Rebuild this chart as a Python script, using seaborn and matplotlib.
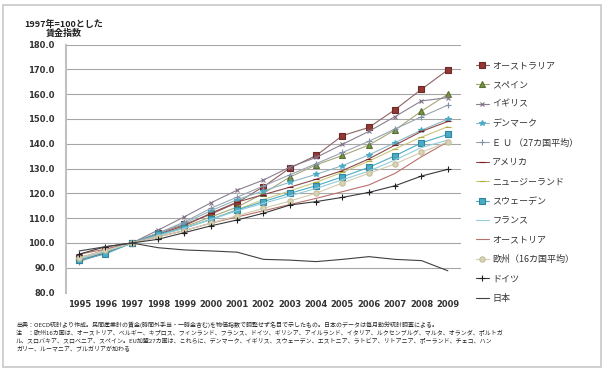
import matplotlib
matplotlib.use("Agg")
import matplotlib.pyplot as plt
import seaborn as sns
from matplotlib.patches import Rectangle

sns.set_theme(style="white")
plt.rcParams["font.family"] = ["Noto Sans CJK JP", "DejaVu Sans"]

years = list(range(1995, 2010))

australia = [94.1, 97.0, 100, 104.0, 107.5, 111.6, 116.3, 122.7, 130.2, 135.3, 143.3, 146.6, 153.8, 162.0, 169.8]
spain = [93.0, 96.5, 100, 103.0, 106.5, 110.5, 114.5, 120.0, 126.6, 131.5, 135.3, 139.5, 145.6, 153.2, 160.0]
uk = [93.0, 97.5, 100, 105.2, 110.6, 116.2, 121.3, 125.4, 130.6, 134.5, 139.8, 145.0, 151.0, 157.3, 158.6]
denmark = [93.5, 96.5, 100, 104.0, 108.0, 113.0, 117.5, 121.0, 124.5, 127.7, 131.2, 135.5, 140.5, 145.5, 149.9]
eu27 = [92.5, 96.0, 100, 104.0, 108.5, 114.0, 118.5, 123.0, 127.5, 132.0, 136.5, 141.0, 146.0, 150.9, 155.6]
usa = [93.0, 96.0, 100, 103.5, 107.0, 112.0, 116.5, 119.5, 122.5, 125.7, 129.2, 133.9, 139.5, 145.0, 149.0]
new_zealand = [94.0, 97.0, 100, 103.0, 106.0, 109.5, 113.5, 117.5, 121.0, 124.5, 128.5, 133.0, 138.0, 142.7, 146.9]
sweden = [93.0, 95.6, 100, 103.5, 106.0, 109.5, 113.3, 116.7, 120.0, 123.1, 126.7, 130.5, 135.2, 140.4, 143.8]
france = [93.5, 96.5, 100, 103.0, 106.0, 109.5, 113.0, 116.0, 119.0, 122.0, 125.5, 129.0, 133.5, 138.5, 141.5]
austria = [95.5, 97.5, 100, 102.5, 105.0, 108.0, 110.5, 113.0, 115.5, 118.0, 120.7, 123.4, 128.1, 134.8, 140.8]
europe16 = [94.0, 97.0, 100, 102.5, 105.0, 108.0, 111.0, 114.0, 116.9, 120.1, 124.2, 128.1, 131.9, 136.6, 140.8]
germany = [95.5, 98.5, 100, 101.5, 104.2, 106.9, 109.3, 112.0, 115.3, 116.7, 118.4, 120.4, 123.1, 127.0, 129.7]
japan = [96.8, 98.5, 100, 98.1, 97.2, 96.8, 96.3, 93.4, 93.1, 92.5, 93.4, 94.5, 93.4, 92.9, 88.8]

labels = ["オーストラリア", "スペイン", "イギリス", "デンマーク", "Ｅ Ｕ （27カ国平均）", "アメリカ",
          "ニュージーランド", "スウェーデン", "フランス", "オーストリア", "欧州（16カ国平均）", "ドイツ", "日本"]
values = [australia, spain, uk, denmark, eu27, usa, new_zealand, sweden, france, austria, europe16, germany, japan]

# line color, marker, marker face, marker edge, marker size
styles = [
    ("#8c6464", "s", "#953735", "#6b2a28", 3.8),
    ("#a5a77a", "^", "#77933c", "#5a7030", 4.2),
    ("#8a7f90", "x", "none", "#7f7088", 3.3),
    ("#8fb8c4", "*", "#4bacc6", "#4bacc6", 3.8),
    ("#9aa3b0", "+", "none", "#8090a8", 4.2),
    ("#8c4a4a", "_", "none", "#7a1f1f", 3.8),
    ("#c9c77e", "_", "none", "#b0ac40", 3.8),
    ("#4bacc6", "s", "#4bacc6", "#31859c", 3.8),
    ("#93cddd", "", "none", "#93cddd", 0),
    ("#b8706c", "", "none", "#b8706c", 0),
    ("#d2cdb0", "o", "#d8d4b8", "#c4bd97", 3.8),
    ("#3a3a3a", "+", "none", "#202020", 4.2),
    ("#404040", "", "none", "#404040", 0),
]

fig = plt.figure(figsize=(6.08, 3.70), dpi=100)
ax = fig.add_axes([66 / 608, 1 - 292.6 / 370, (461 - 66) / 608, (292.6 - 44.6) / 370])

for name, vals, (lc, mk, mfc, mec, ms) in zip(labels, values, styles):
    sns.lineplot(x=years, y=vals, ax=ax, color=lc, linewidth=0.8, marker=mk if mk else None,
                 markersize=ms, markerfacecolor=mfc, markeredgecolor=mec, markeredgewidth=0.8,
                 label=name)

ax.set_xlim(1994.5, 2009.5)
ax.set_ylim(80, 180)
ax.set_xticks(years)
ax.set_xticklabels([str(y) for y in years], fontsize=6, fontweight="bold", color="#333333",
                   family=["DejaVu Sans"])
yt = list(range(80, 181, 10))
ax.set_yticks(yt)
ax.set_yticklabels([f"{v:.1f}" for v in yt], fontsize=6, fontweight="bold", color="#333333",
                   family=["DejaVu Sans"])
ax.tick_params(axis="y", length=0, pad=8)
ax.tick_params(axis="x", length=0, pad=5)
ax.set_xlabel("")
ax.set_ylabel("")

ax.yaxis.grid(True, color="#a6a6a6", linewidth=0.8)
ax.xaxis.grid(False)
ax.get_ygridlines()[0].set_visible(False)
for s in ["top", "right", "bottom"]:
    ax.spines[s].set_visible(False)
ax.spines["left"].set_color("#c0c0c0")
ax.spines["left"].set_linewidth(1.5)

leg = ax.legend(loc="upper left", bbox_to_anchor=(476 / 608, 1 - 61 / 370), bbox_transform=fig.transFigure,
                frameon=False, fontsize=6.5, handlelength=1.4, handletextpad=0.4, labelspacing=1.15,
                borderpad=0, borderaxespad=0)
for t in leg.get_texts():
    t.set_color("#333333")

fig.text(64 / 608, 1 - 24 / 370, "1997年=100とした", ha="center", va="center", fontsize=6.5,
         fontweight="bold", color="#222222")
fig.text(64 / 608, 1 - 33 / 370, "賃金指数", ha="center", va="center", fontsize=6.5,
         fontweight="bold", color="#222222")

notes = [
    "出典：OECD統計より作成。民間産業計の賃金(時間外手当・一時金含む)を物価指数で調整せず名目で示したもの。日本のデータは毎月勤労統計調査による。",
    "注　：欧州16カ国は、オーストリア、ベルギー、キプロス、フィンランド、フランス、ドイツ、ギリシア、アイルランド、イタリア、ルクセンブルグ、マルタ、オランダ、ポルトガ",
    "ル、スロバキア、スロベニア、スペイン。EU加盟27カ国は、これらに、デンマーク、イギリス、スウェーデン、エストニア、ラトビア、リトアニア、ポーランド、チェコ、ハン",
    "ガリー、ルーマニア、ブルガリアが加わる",
]
for i, line in enumerate(notes):
    fig.text(16 / 608, 1 - (325 + i * 8.2) / 370, line, ha="left", va="center", fontsize=4.3, color="#222222")

fig.patches.append(Rectangle((3 / 608, 3 / 370), 598 / 608, 362 / 370, transform=fig.transFigure,
                             fill=False, edgecolor="#c8c8c8", linewidth=1.2))

fig.savefig("out.png", dpi=100)
plt.close(fig)
